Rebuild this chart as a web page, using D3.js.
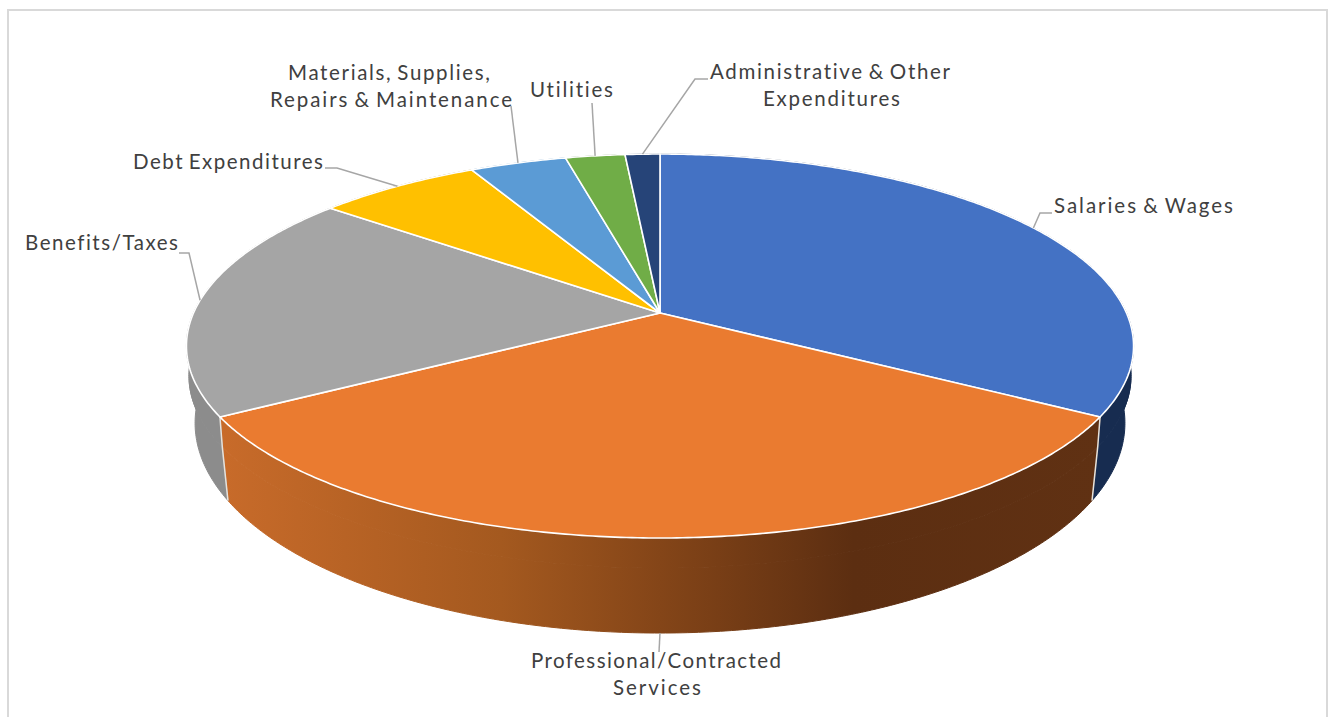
<!DOCTYPE html>
<html>
<head>
<meta charset="utf-8">
<script src="https://cdnjs.cloudflare.com/ajax/libs/d3/7.8.5/d3.min.js"></script>
<style>
  html, body { margin: 0; padding: 0; background: #fff; overflow: hidden; }
  svg { display: block; }
  text { font-family: Lato, "Open Sans", sans-serif; font-size: 20.5px; fill: #404040; word-spacing: -2px; font-variant-ligatures: none; }
</style>
</head>
<body>
<svg id="chart" width="1333" height="717"></svg>
<script>
// Budget shares by expenditure category, percent of total
const categories = [
  "Salaries & Wages",
  "Professional/Contracted Services",
  "Benefits/Taxes",
  "Debt Expenditures",
  "Materials, Supplies, Repairs & Maintenance",
  "Utilities",
  "Administrative & Other Expenditures"
];
const shares = [33.5, 33.0, 19.2, 6.6, 3.9, 2.4, 1.4];
const topColors = ["#4472c4", "#ea7b30", "#a5a5a5", "#ffc000", "#5b9bd5", "#70ad47", "#264478"];
const wallColors = ["#172c50", "url(#wallGradient)", "#8c8c8c", "#997300", "#2e75b6", "#43682b", "#172c50"];

// Label placement: text lines with [x, baseline, width], and the leader's elbow points
const labelLayout = [
  { lines: [["Salaries & Wages", 1054, 213, 179]], elbow: [[1040, 213], [1052, 213]] },
  { lines: [["Professional/Contracted", 531, 668, 250], ["Services", 613, 695, 88]], elbow: [[659, 652]] },
  { lines: [["Benefits/Taxes", 25, 250, 153]], elbow: [[189, 253], [179, 253]] },
  { lines: [["Debt Expenditures", 133, 169, 190]], elbow: [[337, 168], [325, 168]] },
  { lines: [["Materials, Supplies,", 288, 80, 202], ["Repairs & Maintenance", 270, 107, 242]], elbow: [[511, 106]] },
  { lines: [["Utilities", 530, 97, 83]], elbow: [[592, 103]] },
  { lines: [["Administrative & Other", 710, 79, 240], ["Expenditures", 763, 106, 137]], elbow: [[695, 79], [708, 79]] }
];

const svg = d3.select("#chart");

// Perspective projection of the unit disc onto the page
const k = 0.172;
const cx = 660;
const topFace = { rx: 466.5, ry: 186.3, y0: 313 };
const shoulder = { rx: 464, ry: 186.3, y0: 343 };
const baseFace = { rx: 458, ry: 203.8, y0: 386.9 };

function project(angle, face) {
  const u = Math.sin(angle), v = -Math.cos(angle), w = 1 - k * v;
  return [cx + face.rx * u / w, face.y0 + face.ry * v / w];
}
function arcPoints(a0, a1, face) {
  const n = Math.max(2, Math.ceil((a1 - a0) / 0.01));
  return d3.range(n + 1).map(i => project(a0 + (a1 - a0) * i / n, face));
}

const arcs = d3.pie().sort(null).value(d => d)(shares);
const line = d3.line();

// Gradient across the front wall of the largest visible slice
const grad = svg.append("defs").append("linearGradient")
  .attr("id", "wallGradient")
  .attr("gradientUnits", "userSpaceOnUse")
  .attr("x1", 220).attr("x2", 1100).attr("y1", 0).attr("y2", 0);
grad.selectAll("stop")
  .data([[0, "#c86b2a"], [0.32, "#a4591f"], [0.5, "#844518"], [0.72, "#5c2e11"], [1, "#603113"]])
  .join("stop")
  .attr("offset", d => d[0])
  .attr("stop-color", d => d[1]);

// Chart frame, open past the bottom of the page
svg.append("rect")
  .attr("x", 8).attr("y", 10).attr("width", 1319).attr("height", 730)
  .attr("fill", "#fff").attr("stroke", "#d9d9d9").attr("stroke-width", 2);

// Side walls go first so the top face covers their hidden parts.
// Each wall bulges through a shoulder ring below the rim before tapering to the base;
// a matching hairline stroke closes the joint between the two bands.
const wallBands = [[topFace, shoulder], [shoulder, baseFace]];
svg.append("g").selectAll("g")
  .data(arcs)
  .join("g")
  .attr("fill", (d, i) => wallColors[i])
  .attr("stroke", (d, i) => wallColors[i])
  .attr("stroke-width", 1)
  .selectAll("path")
  .data(d => wallBands.map(band => ({ d, band })))
  .join("path")
  .attr("d", ({ d, band }) => line(arcPoints(d.startAngle, d.endAngle, band[0])
    .concat(arcPoints(d.startAngle, d.endAngle, band[1]).reverse())) + "Z");

// Light seams where the front wall meets its neighbours
svg.append("g").selectAll("path")
  .data([arcs[0].endAngle, arcs[1].endAngle])
  .join("path")
  .attr("d", a => line([project(a, topFace), project(a, shoulder), project(a, baseFace)]))
  .attr("stroke", "#e6e2dc").attr("stroke-width", 1.5).attr("fill", "none");

// Top face slices
svg.append("g").selectAll("path")
  .data(arcs)
  .join("path")
  .attr("d", d => line([[cx, topFace.y0]].concat(arcPoints(d.startAngle, d.endAngle, topFace))) + "Z")
  .attr("fill", (d, i) => topColors[i])
  .attr("stroke", "#fff").attr("stroke-width", 1.6).attr("stroke-linejoin", "round");

// Leader lines run from each slice's mid angle to its label
svg.append("g").selectAll("path")
  .data(arcs)
  .join("path")
  .attr("d", (d, i) => {
    const mid = (d.startAngle + d.endAngle) / 2;
    const anchor = i === 1 ? project(mid, baseFace) : project(mid, topFace);
    return line([anchor].concat(labelLayout[i].elbow));
  })
  .attr("fill", "none").attr("stroke", "#a6a6a6").attr("stroke-width", 1.5);

// Category labels
svg.append("g").selectAll("text")
  .data(labelLayout.flatMap(d => d.lines))
  .join("text")
  .attr("x", d => d[1])
  .attr("y", d => d[2])
  .attr("textLength", d => d[3])
  .attr("lengthAdjust", "spacing")
  .text(d => d[0]);
</script>
</body>
</html>
